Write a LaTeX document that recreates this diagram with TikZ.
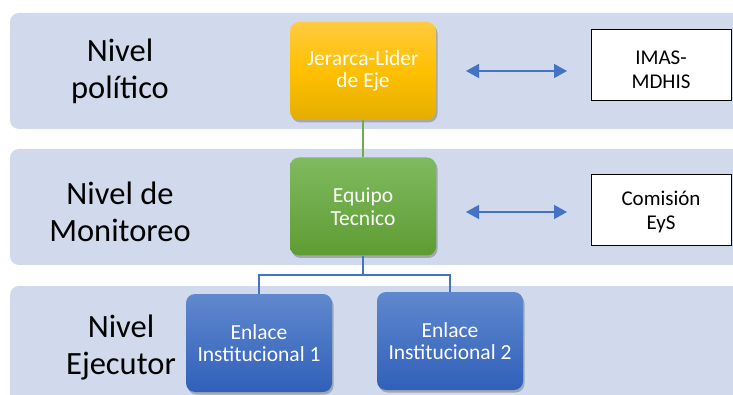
\documentclass[tikz,border=0pt]{standalone}
\usepackage{fontspec}
\setmainfont{Carlito}
\usetikzlibrary{arrows.meta,shadows,calc}
\definecolor{bandc}{RGB}{208,218,236}
\definecolor{arrowc}{RGB}{68,114,196}
\definecolor{greenl}{RGB}{112,173,71}
\tikzset{
  band/.style={fill=bandc, rounded corners=9pt, draw=none},
  lvl/.style={font=\fontsize{32.5}{37}\selectfont, align=center, text=black},
  boxbase/.style={rounded corners=9pt, minimum width=146pt, minimum height=98pt, text=white, align=center,
     font=\fontsize{21.5}{22.5}\selectfont, drop shadow={shadow xshift=1.5pt, shadow yshift=-2.5pt, opacity=0.35, fill=black!70}},
  goldbox/.style={boxbase, top color={rgb,255:red,255;green,202;blue,64}, bottom color={rgb,255:red,228;green,174;blue,0}, middle color={rgb,255:red,255;green,192;blue,0}},
  greenbox/.style={boxbase, top color={rgb,255:red,128;green,186;blue,96}, bottom color={rgb,255:red,94;green,156;blue,50}},
  bluebox/.style={boxbase, top color={rgb,255:red,96;green,136;blue,206}, bottom color={rgb,255:red,48;green,96;blue,186}},
  whitebox/.style={draw=black, line width=1pt, fill=white, minimum width=140pt, minimum height=71pt},
  wtext/.style={align=center, font=\fontsize{21}{24}\selectfont, text=black},
  dblarrow/.style={arrowc, line width=1.5pt, {Triangle[width=14pt,length=13pt]}-{Triangle[width=14pt,length=13pt]}},
  conn/.style={arrowc, line width=1.8pt},
  gconn/.style={greenl, line width=1.8pt}
}
\begin{document}
\begin{tikzpicture}[x=1pt,y=-1pt]
\useasboundingbox (0,0) rectangle (733,395);
\clip (0,0) rectangle (733,395);
% bands
\path[band] (10,13) rectangle (760,129);
\path[band] (10,149) rectangle (760,265);
\path[band] (10,286) rectangle (760,420);
% level labels
\node[lvl] (l1) at (120,71) {Nivel\\político};
\node[lvl] (l2) at (120,212) {Nivel de\\Monitoreo};
\node[lvl] (l3) at (121,348) {Nivel\\Ejecutor};
% boxes
\node[goldbox] (jer) at (363,71) {Jerarca-Lider\\de Eje};
\node[greenbox] (eq) at (363,206.5) {Equipo\\Tecnico};
\node[bluebox] (en1) at (259,343) {Enlace\\Institucional 1};
\node[bluebox] (en2) at (450,341) {Enlace\\Institucional 2};
% white boxes
\node[whitebox] (imas) at (661,65) {};
\node[wtext] (imast) at (661,70) {IMAS-\\MDHIS};
\node[whitebox] (com) at (661,210) {};
\node[wtext] (comt) at (661,212) {Comisión\\EyS};
% arrows
\coordinate (a1l) at (466,71);
\coordinate (a1r) at (567,71);
\coordinate (a2l) at (466,212);
\coordinate (a2r) at (567,212);
\draw[dblarrow] (a1l) -- (a1r);
\draw[dblarrow] (a2l) -- (a2r);
% connectors
\draw[gconn] (jer.south) -- (eq.north);
\coordinate (mid) at (363,275);
\draw[conn] (eq.south) -- (mid);
\draw[conn] (en1.north) |- (mid) -| (en2.north);
\end{tikzpicture}
\end{document}
